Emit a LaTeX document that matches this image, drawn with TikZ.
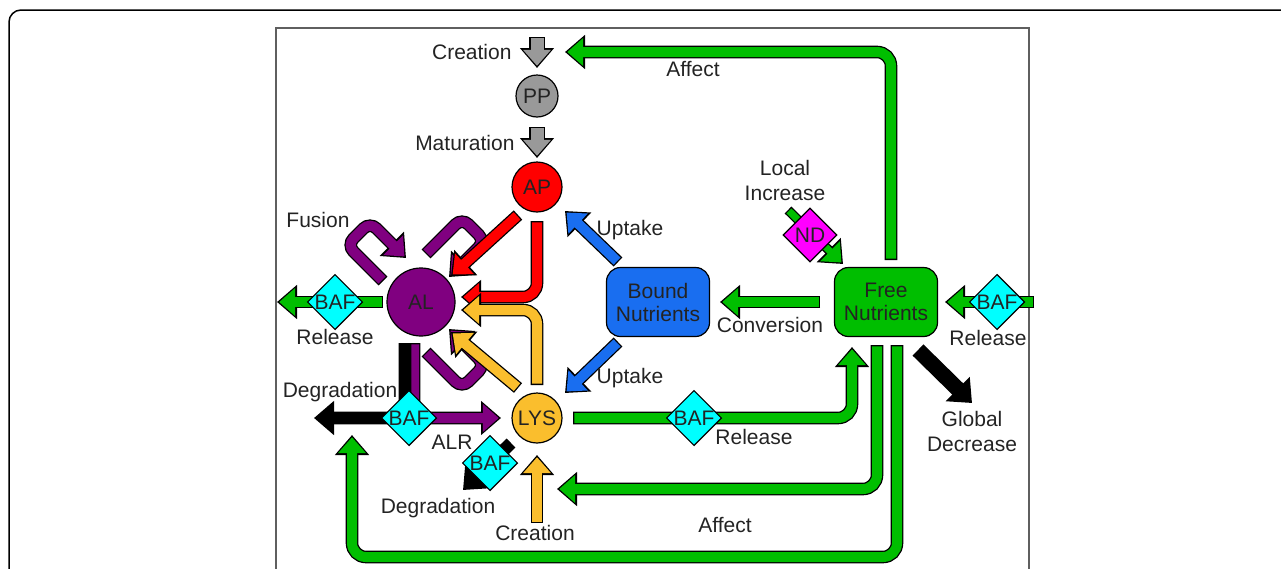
\documentclass[tikz,border=0pt]{standalone}
\usepackage{fontspec}
\setmainfont{Liberation Sans}
\usetikzlibrary{arrows.meta, shapes.geometric}

\definecolor{ink}{RGB}{35,35,35}
\definecolor{frame_gray}{RGB}{95,95,95}
\definecolor{pp_gray}{RGB}{153,153,153}
\definecolor{ap_red}{RGB}{255,0,0}
\definecolor{al_purple}{RGB}{128,0,128}
\definecolor{lys_orange}{RGB}{250,190,45}
\definecolor{bound_blue}{RGB}{25,110,240}
\definecolor{free_green}{RGB}{0,190,0}
\definecolor{baf_cyan}{RGB}{0,255,255}
\definecolor{nd_magenta}{RGB}{255,0,255}

\newcommand{\lbl}{\fontsize{21}{25}\selectfont}

\begin{document}
\begin{tikzpicture}[x=1pt, y=-1pt,
every node/.style={font=\lbl, text=ink},
bubble/.style={circle, draw=black, line width=1.2pt, inner sep=0pt},
rounded_box/.style={rectangle, rounded corners=14pt, draw=black, line width=1.2pt, minimum width=103pt, minimum height=69pt, inner sep=0pt, align=center, font=\fontsize{21}{23}\selectfont},
gate/.style={diamond, draw=black, line width=1.2pt, inner sep=0pt, minimum size=54pt},
fat/.style={line width=#1pt, rounded corners=14pt, shorten <=1.3pt, shorten >=2.2pt, -{Triangle[length=16pt, width=27pt]},
  preaction={draw=black, line width=#1pt+2.6pt, shorten <=0pt, shorten >=0pt, -{Triangle[length=20pt, width=33pt]}}},
fat/.default=10,
loop_arrow/.style={fat, draw=al_purple, rounded corners=9pt},
two_lines/.style={align=center}
]

\useasboundingbox (0,0) rectangle (1281,568);
\clip (0,0) rectangle (1281,568);

% frames
\draw[line width=1.5pt, rounded corners=12pt] (9,620) -- (9,10) -- (1320,10);
\draw[draw=frame_gray, line width=2pt] (276,620) -- (276,28) -- (1029,28) -- (1029,620);

% compartments
\node[bubble, fill=pp_gray, minimum size=42pt](pp) at (537,96) {PP};
\node[bubble, fill=ap_red, minimum size=50pt](ap) at (537,187) {AP};
\node[bubble, fill=al_purple, minimum size=68pt](al) at (421,302) {AL};
\node[bubble, fill=lys_orange, minimum size=50pt](lys) at (537,418) {LYS};
\node[rounded_box, fill=bound_blue](bound_nutrients) at (658,302) {Bound\\Nutrients};
\node[rounded_box, fill=free_green](free_nutrients) at (886,302) {Free\\Nutrients};

% arrow ends
\coordinate (creation_tail) at (537,37);
\coordinate (creation_tip) at (537,68);
\coordinate (maturation_tail) at (537,127);
\coordinate (maturation_tip) at (537,158);
\coordinate (free_top) at (891,260);
\coordinate (affect_top_tip) at (565,52);
\coordinate (nd_tail) at (788,210);
\coordinate (nd_tip) at (843,264);
\coordinate (uptake_top_tail) at (618,262);
\coordinate (uptake_top_tip) at (565,211);
\coordinate (uptake_bottom_tail) at (618,342);
\coordinate (uptake_bottom_tip) at (565,393);
\coordinate (conversion_tail) at (820,302);
\coordinate (conversion_tip) at (720,302);
\coordinate (release_right_tail) at (1034,302);
\coordinate (release_right_tip) at (945,302);
\coordinate (ap_diag_tail) at (518,215);
\coordinate (ap_diag_tip) at (451,276);
\coordinate (ap_down_tail) at (537,221);
\coordinate (ap_down_tip) at (461,297);
\coordinate (lys_up_tail) at (537,385);
\coordinate (lys_up_tip) at (461,310);
\coordinate (lys_diag_tail) at (518,388);
\coordinate (lys_diag_tip) at (451,332);
\coordinate (release_left_tail) at (383,302);
\coordinate (release_left_tip) at (277,302);
\coordinate (alr_tail) at (414,343);
\coordinate (alr_tip) at (501,418);
\coordinate (degradation_tail) at (405,343);
\coordinate (degradation_tip) at (314,418);
\coordinate (lys_degradation_tail) at (511,443);
\coordinate (lys_degradation_tip) at (463,490);
\coordinate (creation_lys_tail) at (537,523);
\coordinate (creation_lys_tip) at (537,455);
\coordinate (lys_out) at (573,418);
\coordinate (free_in) at (852,347);
\coordinate (free_out_one) at (877,345);
\coordinate (affect_lys_tip) at (557,489);
\coordinate (free_out_two) at (897,345);
\coordinate (loop_corner) at (352,557);
\coordinate (loop_tip) at (352,435);
\coordinate (global_tail) at (918,350);
\coordinate (global_tip) at (972,403);

\draw[fat=13, draw=pp_gray](creation_tail) -- (creation_tip);
\draw[fat=13, draw=pp_gray](maturation_tail) -- (maturation_tip);

\draw[fat, draw=free_green](free_top) |- (affect_top_tip);
\draw[fat=7, draw=free_green](nd_tail) -- (nd_tip);
\draw[fat, draw=bound_blue](uptake_top_tail) -- (uptake_top_tip);
\draw[fat, draw=bound_blue](uptake_bottom_tail) -- (uptake_bottom_tip);
\draw[fat, draw=free_green](conversion_tail) -- (conversion_tip);
\draw[fat, draw=free_green](release_right_tail) -- (release_right_tip);

% fusion loops
\draw[loop_arrow](383,281) -- (347,245) -- (370,222) -- (406,258);
\draw[loop_arrow](426,254) -- (462,218) -- (485,241) -- (449,277);
\draw[loop_arrow](426,352) -- (462,388) -- (485,365) -- (449,329);

\draw[fat, draw=ap_red](ap_diag_tail) -- (ap_diag_tip);
\draw[fat, draw=ap_red](ap_down_tail) |- (ap_down_tip);
\draw[fat, draw=lys_orange](lys_up_tail) |- (lys_up_tip);
\draw[fat, draw=lys_orange](lys_diag_tail) -- (lys_diag_tip);

\draw[fat, draw=free_green](release_left_tail) -- (release_left_tip);
\draw[fat, draw=al_purple](alr_tail) |- (alr_tip);
\draw[fat, draw=black](degradation_tail) |- (degradation_tip);
\draw[fat, draw=black](lys_degradation_tail) -- (lys_degradation_tip);
\draw[fat, draw=lys_orange](creation_lys_tail) -- (creation_lys_tip);

\draw[fat, draw=free_green](lys_out) -| (free_in);
\draw[fat, draw=free_green](free_out_one) |- (affect_lys_tip);
\draw[fat, draw=free_green](free_out_two) |- (loop_corner) -- (loop_tip);
\draw[fat=13, draw=black](global_tail) -- (global_tip);

% factors
\node[gate, fill=nd_magenta](nd) at (810,235) {ND};
\node[gate, fill=baf_cyan](baf_left) at (335,302) {BAF};
\node[gate, fill=baf_cyan](baf_right) at (997,302) {BAF};
\node[gate, fill=baf_cyan](baf_alr) at (409,418) {BAF};
\node[gate, fill=baf_cyan](baf_degradation) at (490,463) {BAF};
\node[gate, fill=baf_cyan](baf_lys) at (694,418) {BAF};

% labels
\node[anchor=east](creation_top) at (515,52) {Creation};
\node[anchor=east](maturation) at (518,143) {Maturation};
\node(affect_top) at (693,69) {Affect};
\node[two_lines](local_increase) at (785,180) {Local\\Increase};
\node(fusion) at (318,220) {Fusion};
\node(uptake_top) at (630,230) {Uptake};
\node(release_left) at (335,337) {Release};
\node(conversion) at (770,325) {Conversion};
\node(release_right) at (988,338) {Release};
\node(uptake_bottom) at (630,378) {Uptake};
\node(degradation_left) at (340,392) {Degradation};
\node(alr) at (452,442) {ALR};
\node(release_lys) at (754,437) {Release};
\node[two_lines](global_decrease) at (972,431) {Global\\Decrease};
\node(degradation_bottom) at (438,508) {Degradation};
\node(affect_bottom) at (725,525) {Affect};
\node(creation_bottom) at (535,533) {Creation};

\end{tikzpicture}
\end{document}
